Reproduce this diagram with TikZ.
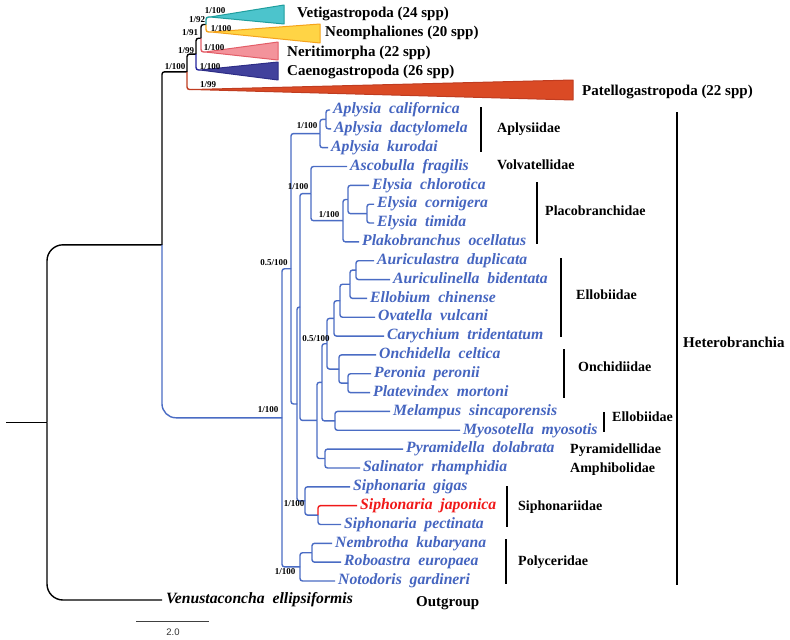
\documentclass[tikz,border=0pt]{standalone}
\usepackage{fontspec}
\setmainfont{Liberation Serif}
\newfontfamily\barfont{Liberation Sans}
\usetikzlibrary{calc}
\definecolor{tblue}{HTML}{4565C0}
\definecolor{hblue}{HTML}{4A6CC4}
\definecolor{jred}{HTML}{F01818}
\definecolor{vetf}{HTML}{4CC4CC}\definecolor{vetd}{HTML}{1F9E9E}
\definecolor{neof}{HTML}{FFD445}\definecolor{neod}{HTML}{F5A31B}
\definecolor{nerf}{HTML}{F3939B}\definecolor{nerd}{HTML}{E35D67}
\definecolor{caef}{HTML}{41419C}\definecolor{caed}{HTML}{2D2D86}
\definecolor{patf}{HTML}{DA4A25}\definecolor{patd}{HTML}{C03C20}
\newcommand{\mkn}[4]{\path let \p1=($(#3)!.5!(#4)$) in coordinate (#1) at (#2,\y1);}
\newcommand{\lf}[3][]{\draw[brs,#1] (#2) |- (#3.west);}
\newcommand{\bn}[3][]{\draw[brs,#1] (#2) |- (#3);}
\begin{document}
\begin{tikzpicture}[x=1pt,y=-1pt,
  sp/.style={anchor=west, inner xsep=3pt, inner ysep=0pt, text height=10.5pt, text depth=3pt,
    font=\bfseries\itshape\fontsize{15.7}{18}\selectfont, text=tblue},
  fam/.style={anchor=west, inner sep=0pt, text height=9.5pt, text depth=2.5pt,
    font=\bfseries\fontsize{14}{16}\selectfont},
  grp/.style={anchor=west, inner sep=0pt, text height=10pt, text depth=3pt,
    font=\bfseries\fontsize{15}{17}\selectfont},
  sup/.style={inner sep=0pt, font=\bfseries\fontsize{9}{10}\selectfont},
  brs/.style={draw=hblue, line width=1.4pt, rounded corners=2.5pt},
  blk/.style={draw=black},
  bar/.style={draw=black, line width=1.3pt},
  tri/.style={line width=1pt, line join=round}]
\fill[white] (0,0) rectangle (790,640);
\useasboundingbox (0,0) rectangle (790,640);

% ---------- collapsed clades ----------
\coordinate (vetA) at (210,17);
\coordinate (neoA) at (211,32);
\coordinate (nerA) at (205,52);
\coordinate (caeA) at (200,70);
\coordinate (patA) at (192,89.5);
\draw[tri, fill=vetf, draw=vetd] (vetA) -- (284,5) -- (284,24) -- cycle;
\draw[tri, fill=neof, draw=neod] (neoA) -- (320,24) -- (320,43) -- cycle;
\draw[tri, fill=nerf, draw=nerd] (nerA) -- (278,42) -- (278,60) -- cycle;
\draw[tri, fill=caef, draw=caed] (caeA) -- (278,62) -- (278,80) -- cycle;
\draw[tri, fill=patf, draw=patd] (patA) -- (573,80) -- (573,100) -- cycle;

% ---------- leaves ----------
\node[sp] (cal) at (330,110.00) {Aplysia~~californica};
\node[sp] (dac) at (331,128.84) {Aplysia~~dactylomela};
\node[sp] (kur) at (328,147.68) {Aplysia~~kurodai};
\node[sp] (asc) at (347,166.52) {Ascobulla~~fragilis};
\node[sp] (chl) at (369,185.36) {Elysia~~chlorotica};
\node[sp] (cor) at (374,204.20) {Elysia~~cornigera};
\node[sp] (tim) at (374,223.04) {Elysia~~timida};
\node[sp] (plk) at (359,241.88) {Plakobranchus~~ocellatus};
\node[sp] (aur) at (374,260.72) {Auriculastra~~duplicata};
\node[sp] (aub) at (390,279.56) {Auriculinella~~bidentata};
\node[sp] (elc) at (367,298.40) {Ellobium~~chinense};
\node[sp] (ova) at (375,317.24) {Ovatella~~vulcani};
\node[sp] (car) at (384,336.08) {Carychium~~tridentatum};
\node[sp] (onc) at (376,354.92) {Onchidella~~celtica};
\node[sp] (per) at (371,373.76) {Peronia~~peronii};
\node[sp] (plv) at (370,392.60) {Platevindex~~mortoni};
\node[sp] (mel) at (390,411.44) {Melampus~~sincaporensis};
\node[sp] (myo) at (460,430.28) {Myosotella~~myosotis};
\node[sp] (pyr) at (403,449.12) {Pyramidella~~dolabrata};
\node[sp] (sal) at (360,467.96) {Salinator~~rhamphidia};
\node[sp] (gig) at (350,486.80) {Siphonaria~~gigas};
\node[sp,text=jred] (jap) at (357,505.64) {Siphonaria~~japonica};
\node[sp] (pec) at (341,524.48) {Siphonaria~~pectinata};
\node[sp] (nem) at (332,543.32) {Nembrotha~~kubaryana};
\node[sp] (rob) at (341,562.16) {Roboastra~~europaea};
\node[sp] (ntd) at (335,581.00) {Notodoris~~gardineri};
\node[sp,text=black,inner xsep=4pt] (ven) at (162,600) {Venustaconcha~~ellipsiformis};

% ---------- internal nodes ----------
\mkn{NN}{206}{vetA}{neoA}
\mkn{NA}{201}{NN}{nerA}
\mkn{NB}{196}{NA}{caeA}
\mkn{Up}{187}{NB}{patA}
\mkn{AplS}{326}{cal}{dac}
\mkn{Apl}{320}{AplS}{kur}
\mkn{CT}{367}{cor}{tim}
\mkn{Ely}{348}{chl}{CT}
\mkn{Pla}{343}{Ely}{plk}
\mkn{Sac}{311}{asc}{Pla}
\mkn{AA}{356}{aur}{aub}
\mkn{AE}{350}{AA}{elc}
\mkn{AO}{340}{AE}{ova}
\mkn{Ell}{334}{AO}{car}
\mkn{PP}{348}{per}{plv}
\mkn{Onc}{339}{onc}{PP}
\mkn{EO}{327}{Ell}{Onc}
\mkn{MM}{335}{mel}{myo}
\mkn{T}{322}{EO}{MM}
\mkn{PS}{325}{pyr}{sal}
\mkn{U}{317}{T}{PS}
\mkn{V}{300}{Sac}{U}
\mkn{JP}{318}{jap}{pec}
\mkn{Sip}{305}{gig}{JP}
\mkn{Z}{297}{V}{Sip}
\mkn{NOne}{291}{Apl}{Z}
\mkn{NR}{312}{nem}{rob}
\mkn{Poly}{300}{NR}{ntd}
\mkn{H}{282}{NOne}{Poly}
\mkn{Ing}{162}{Up}{H}
\mkn{Root}{47}{Ing}{ven}
\path let \p1=(Root) in coordinate (stub) at (6,\y1);

% ---------- branches: backbone ----------
\draw[brs,blk] (stub) -- (Root);
\bn[blk,rounded corners=16pt]{Root}{Ing}
\draw[brs,blk,rounded corners=16pt] (Root) |- (ven.west);
\bn[blk]{Ing}{Up}
\bn[rounded corners=14pt]{Ing}{H}
% upper clade
\bn[blk]{Up}{NB}
\bn[draw=patd]{Up}{patA}
\bn[blk]{NB}{NA}
\bn[draw=caed!80!blue]{NB}{caeA}
\bn[blk]{NA}{NN}
\bn[draw=nerd]{NA}{nerA}
\bn[draw=vetd]{NN}{vetA}
\bn[draw=neod]{NN}{neoA}
% Heterobranchia
\bn{H}{NOne}\bn{H}{Poly}
\bn{NOne}{Apl}\bn{NOne}{Z}
\bn{Apl}{AplS}\lf{Apl}{kur}
\lf{AplS}{cal}\lf{AplS}{dac}
\bn{Z}{V}\bn{Z}{Sip}
\bn{V}{Sac}\bn{V}{U}
\lf{Sac}{asc}\bn{Sac}{Pla}
\bn{Pla}{Ely}\lf{Pla}{plk}
\lf{Ely}{chl}\bn{Ely}{CT}
\lf{CT}{cor}\lf{CT}{tim}
\bn{U}{T}\bn{U}{PS}
\bn{T}{EO}\bn{T}{MM}
\bn{EO}{Ell}\bn{EO}{Onc}
\bn{Ell}{AO}\lf{Ell}{car}
\bn{AO}{AE}\lf{AO}{ova}
\bn{AE}{AA}\lf{AE}{elc}
\lf{AA}{aur}\lf{AA}{aub}
\lf{Onc}{onc}\bn{Onc}{PP}
\lf{PP}{per}\lf{PP}{plv}
\lf{MM}{mel}\lf{MM}{myo}
\lf{PS}{pyr}\lf{PS}{sal}
\lf{Sip}{gig}\bn{Sip}{JP}
\lf[draw=jred]{JP}{jap}\lf{JP}{pec}
\bn{Poly}{NR}\lf{Poly}{ntd}
\lf{NR}{nem}\lf{NR}{rob}

% ---------- support values ----------
\node[sup] (s1) at (215,11) {1/100};
\node[sup] (s2) at (197,20) {1/92};
\node[sup] (s3) at (221,29) {1/100};
\node[sup] (s4) at (190,33) {1/91};
\node[sup] (s5) at (186,51) {1/99};
\node[sup] (s6) at (214,48) {1/100};
\node[sup] (s7) at (210,67) {1/100};
\node[sup] (s8) at (175,67) {1/100};
\node[sup] (s9) at (208,85) {1/99};
\node[sup] (s10) at (268,410) {1/100};
\node[sup] (s11) at (274,263) {0.5/100};
\node[sup] (s12) at (307,126) {1/100};
\node[sup] (s13) at (298,187) {1/100};
\node[sup] (s14) at (329,215) {1/100};
\node[sup] (s15) at (316,339) {0.5/100};
\node[sup] (s16) at (294,504) {1/100};
\node[sup] (s17) at (285,572) {1/100};

% ---------- clade names ----------
\node[grp] (g1) at (297,14) {Vetigastropoda (24 spp)};
\node[grp] (g2) at (325,33) {Neomphaliones (20 spp)};
\node[grp] (g3) at (287,53) {Neritimorpha (22 spp)};
\node[grp] (g4) at (287,72) {Caenogastropoda (26 spp)};
\node[grp] (g5) at (582,92) {Patellogastropoda (22 spp)};

% ---------- family bars and names ----------
\draw[bar] (481,107) -- (481,152);
\draw[bar] (537,182) -- (537,244);
\draw[bar] (561,258) -- (561,337);
\draw[bar] (564,349) -- (564,398);
\draw[bar] (604,412) -- (604,432);
\draw[bar] (507,486) -- (507,527);
\draw[bar] (506,539) -- (506,584);
\draw[bar] (677,112) -- (677,585);
\node[fam] (f1) at (497,129) {Aplysiidae};
\node[fam] (f2) at (497,166) {Volvatellidae};
\node[fam] (f3) at (545,212) {Placobranchidae};
\node[fam] (f4) at (576,296) {Ellobiidae};
\node[fam] (f5) at (578,368) {Onchidiidae};
\node[fam] (f6) at (612,418) {Ellobiidae};
\node[fam] (f7) at (570,450) {Pyramidellidae};
\node[fam] (f8) at (570,469) {Amphibolidae};
\node[fam] (f9) at (518,507) {Siphonariidae};
\node[fam] (f10) at (518,562) {Polyceridae};
\node[fam,font=\bfseries\fontsize{15}{17}\selectfont] (f11) at (683,344) {Heterobranchia};
\node[fam,font=\bfseries\fontsize{15}{17}\selectfont] (f12) at (416,603) {Outgroup};

% ---------- scale bar ----------
\coordinate (sb1) at (136,621);
\coordinate (sb2) at (209,621);
\draw[line width=0.9pt, black!75] (sb1) -- (sb2);
\node[inner sep=0pt, font=\barfont\fontsize{9.5}{10}\selectfont, text=black!80] (sbl) at (173,632) {2.0};
\end{tikzpicture}
\end{document}
